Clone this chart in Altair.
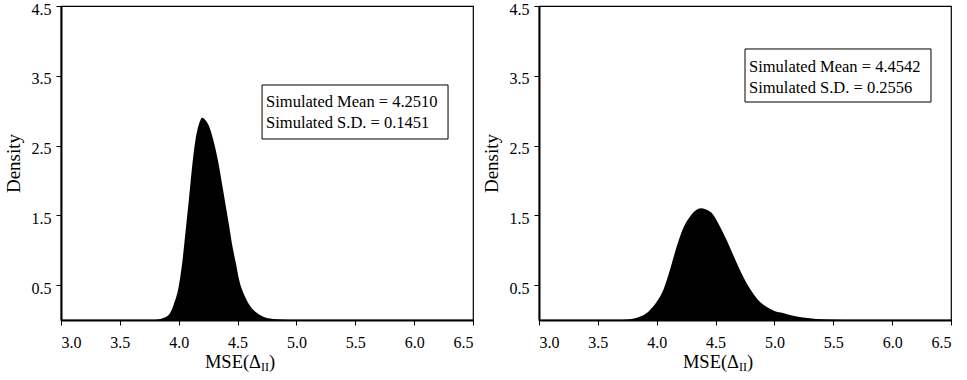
import altair as alt
import pandas as pd

# ---- data ----
x_ticks = [3.0, 3.5, 4.0, 4.5, 5.0, 5.5, 6.0, 6.5]
y_ticks = [0.5, 1.5, 2.5, 3.5, 4.5]

left_x = [3.0, 3.80, 3.857, 3.914, 3.957, 4.0, 4.029, 4.057, 4.086, 4.114, 4.143,
          4.171, 4.2, 4.229, 4.257, 4.286, 4.314, 4.343, 4.371, 4.4, 4.429, 4.457,
          4.486, 4.514, 4.557, 4.6, 4.657, 4.714, 4.8, 4.9, 5.0, 6.5]
left_d = [0, 0, 0.02, 0.07, 0.22, 0.48, 0.81, 1.25, 1.72, 2.2, 2.59,
          2.80, 2.90, 2.86, 2.78, 2.63, 2.44, 2.2, 1.92, 1.63, 1.34, 1.05,
          0.81, 0.57, 0.36, 0.22, 0.11, 0.05, 0.015, 0.005, 0, 0]

right_x = [3.0, 3.7, 3.774, 3.859, 3.929, 4.0, 4.056, 4.113, 4.169, 4.226, 4.282,
           4.339, 4.381, 4.424, 4.48, 4.537, 4.593, 4.65, 4.706, 4.763, 4.819,
           4.876, 4.932, 5.0, 5.073, 5.158, 5.243, 5.356, 5.5, 5.7, 6.5]
right_d = [0, 0, 0.01, 0.05, 0.12, 0.26, 0.43, 0.72, 1.05, 1.32, 1.48,
           1.58, 1.60, 1.58, 1.51, 1.34, 1.15, 0.93, 0.72, 0.53, 0.38,
           0.26, 0.19, 0.13, 0.10, 0.06, 0.035, 0.015, 0.005, 0, 0]

left_lines = ["Simulated Mean = 4.2510", "Simulated S.D. = 0.1451"]
right_lines = ["Simulated Mean = 4.4542", "Simulated S.D. = 0.2556"]

FONT = "Liberation Serif"
W, H = 412, 314


def panel(xs, ds, lines, box, text_x, text_y):
    xscale = alt.Scale(domain=[3.0, 6.5], nice=False, zero=False)
    yscale = alt.Scale(domain=[0, 4.5], nice=False, zero=True)
    df = pd.DataFrame({"x": xs, "d": ds})
    area = alt.Chart(df).mark_area(color="black", interpolate="monotone").encode(
        x=alt.X("x:Q", scale=xscale,
                axis=alt.Axis(values=x_ticks, format=".1f", title=None)),
        y=alt.Y("d:Q", scale=yscale,
                axis=alt.Axis(values=y_ticks, format=".1f", title="Density")),
    )
    bx = pd.DataFrame({"x": [box[0]], "x_end": [box[1]], "d": [box[2]], "d_end": [box[3]]})
    rect = alt.Chart(bx).mark_rect(fill="white", stroke="black", strokeWidth=1).encode(
        x=alt.X("x:Q", scale=xscale), x2="x_end",
        y=alt.Y("d:Q", scale=yscale), y2="d_end",
    )
    tdf = pd.DataFrame({"x": [text_x, text_x], "d": text_y, "label": lines})
    txt = alt.Chart(tdf).mark_text(align="left", baseline="alphabetic", font=FONT,
                                   fontSize=16.5, color="black").encode(
        x=alt.X("x:Q", scale=xscale),
        y=alt.Y("d:Q", scale=yscale),
        text="label:N",
    )
    one = pd.DataFrame({"a": [0]})
    t1 = alt.Chart(one).mark_text(text="MSE(Δ", align="right", baseline="alphabetic",
                                  font=FONT, fontSize=18.5, color="black").encode(
        x=alt.value(200), y=alt.value(362))
    t2 = alt.Chart(one).mark_text(text="II", align="left", baseline="alphabetic",
                                  font=FONT, fontSize=12, color="black").encode(
        x=alt.value(200), y=alt.value(365))
    t3 = alt.Chart(one).mark_text(text=")", align="left", baseline="alphabetic",
                                  font=FONT, fontSize=18.5, color="black").encode(
        x=alt.value(208), y=alt.value(362))
    return alt.layer(area, rect, txt, t1, t2, t3).properties(width=W, height=H)


left = panel(left_x, left_d, left_lines, (4.708, 6.288, 3.368, 2.594), 4.742, [3.052, 2.752])
right = panel(right_x, right_d, right_lines, (4.750, 6.330, 3.884, 3.124), 4.784, [3.554, 3.253])

chart = alt.hconcat(left, right, spacing=6).properties(
    padding={"left": 3, "top": 0, "right": 2, "bottom": 0},
    background="white",
).configure_view(
    stroke="black", strokeWidth=1.2
).configure_axis(
    domainColor="black", domainWidth=2, tickColor="black", tickSize=5, tickWidth=1,
    labelFont=FONT, labelFontSize=16, labelColor="black",
    titleFont=FONT, titleFontSize=19, titleFontWeight="normal", titleColor="black",
    grid=False,
).configure_axisLeft(
    labelPadding=5, titlePadding=8, labelOffset=3
).configure_axisBottom(
    labelPadding=9
)

chart.save("out.html", embed_options={"renderer": "svg", "actions": False})
